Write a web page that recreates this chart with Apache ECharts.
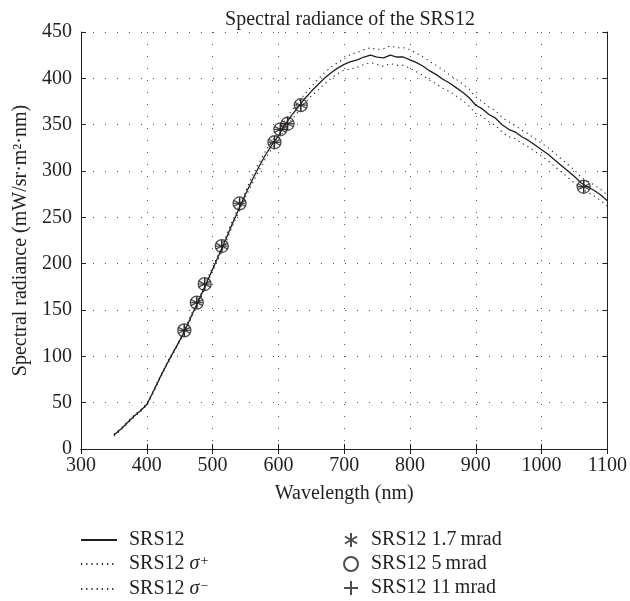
<!DOCTYPE html>
<html>
<head>
<meta charset="utf-8">
<script src="https://cdn.jsdelivr.net/npm/echarts@6/dist/echarts.min.js"></script>
<style>
  html, body { margin: 0; padding: 0; background: #fff; }
  #chart { width: 630px; height: 601px; }
</style>
</head>
<body>
<div id="chart"></div>
<script>
// wavelength grid (nm)
const wavelength = [350, 360, 370, 380, 390, 400, 410, 420, 430, 440, 450, 460, 470, 480, 490,
  500, 510, 520, 530, 540, 550, 560, 570, 580, 590, 600, 610, 620, 630, 640, 650, 660, 670, 680, 690,
  700, 710, 720, 730, 740, 750, 760, 770, 780, 790, 800, 810, 820, 830, 840, 850, 860, 870, 880, 890,
  900, 910, 920, 930, 940, 950, 960, 970, 980, 990, 1000, 1010, 1020, 1030, 1040, 1050, 1060, 1070,
  1080, 1090, 1100];

// SRS12 spectral radiance (mW/sr·m²·nm)
const srs12 = [15, 21, 28, 35, 41, 48, 62, 77, 91, 104, 117, 131, 147, 162, 178,
  194, 210, 226, 243, 259, 275, 290, 304, 317, 328, 338, 350, 360, 369, 378, 386, 393, 400, 406, 411,
  415, 418, 420, 423, 425, 423, 422, 425, 423, 423, 420, 417, 413, 408, 404, 399, 395, 390, 385, 379,
  371, 367, 361, 357, 350, 345, 342, 337, 333, 328, 323, 318, 312, 306, 300, 294, 287, 283,
  279, 274, 268];

const sigmaPlus = [16, 22, 29, 36, 42, 49, 63, 78, 92, 105, 118, 133, 149, 164, 180,
  196, 213, 229, 246, 262, 278, 294, 308, 321, 332, 342, 355, 365, 374, 383, 391, 399, 406, 412, 417,
  421, 426, 428, 431, 433, 431, 432, 435, 433, 433, 431, 427, 423, 418, 414, 409, 404, 399, 394, 388,
  380, 375, 369, 365, 358, 353, 349, 344, 340, 335, 330, 325, 319, 313, 307, 301, 293, 289,
  285, 280, 274];

const sigmaMinus = [14, 20, 27, 34, 40, 47, 61, 76, 90, 103, 116, 129, 145, 160, 176,
  192, 207, 223, 240, 256, 272, 286, 300, 313, 324, 334, 345, 355, 364, 373, 381, 387, 394, 400, 405,
  409, 410, 412, 415, 417, 415, 413, 416, 414, 414, 411, 407, 403, 398, 394, 389, 386, 381, 376, 370,
  362, 359, 353, 349, 342, 337, 335, 330, 326, 321, 316, 311, 305, 299, 293, 287, 281, 277,
  273, 268, 262];

// measured points (same points for 1.7, 5 and 11 mrad)
const markWavelength = [457, 476, 488, 514, 541, 594, 603, 614, 634, 1064];
const markRadiance = [128, 158, 178, 219, 265, 331, 345, 351, 371, 283];

const font = 'Liberation Serif';
const ink = '#231f20';

function pairs(xs, ys) {
  return xs.map((x, i) => [x, ys[i]]);
}

const chart = echarts.init(document.getElementById('chart'));

const markerStyle = { color: 'transparent', borderColor: ink, borderWidth: 1.3 };
const symAsterisk = 'path://M10,0L10,20M1.34,5L18.66,15M1.34,15L18.66,5';
const symPlus = 'path://M10,0L10,20M0,10L20,10';

const tickFmt = v => String(v);

chart.setOption({
  animation: false,
  title: {
    text: 'Spectral radiance of the SRS12',
    left: 345,
    textAlign: 'center',
    top: 5,
    textStyle: { fontFamily: font, fontSize: 20, fontWeight: 'normal', color: ink }
  },
  grid: { left: 81, right: 21, top: 32, bottom: 152 },
  xAxis: [
    {
      type: 'value', min: 300, max: 1100, interval: 100,
      name: 'Wavelength (nm)', nameLocation: 'middle', nameGap: 35,
      nameTextStyle: { fontFamily: font, fontSize: 20, color: ink },
      axisLine: { lineStyle: { color: ink, width: 1 } },
      axisTick: { inside: true, length: 5, lineStyle: { color: ink } },
      axisLabel: { fontFamily: font, fontSize: 20, color: ink, margin: 7, formatter: tickFmt },
      splitLine: { show: true, lineStyle: { color: '#555', width: 1, type: [1, 11] } }
    },
    {
      type: 'value', min: 300, max: 1100, interval: 100, position: 'top',
      axisLine: { lineStyle: { color: ink, width: 1 } },
      axisTick: { inside: true, length: 5, lineStyle: { color: ink } },
      axisLabel: { show: false },
      splitLine: { show: false }
    }
  ],
  yAxis: [
    {
      type: 'value', min: 0, max: 450, interval: 50,
      name: 'Spectral radiance (mW/sr·m²·nm)', nameLocation: 'middle', nameGap: 49,
      nameTextStyle: { fontFamily: font, fontSize: 20, color: ink },
      axisLine: { show: true, lineStyle: { color: ink, width: 1 } },
      axisTick: { show: true, inside: true, length: 5, lineStyle: { color: ink } },
      axisLabel: { fontFamily: font, fontSize: 20, color: ink, margin: 9, formatter: tickFmt },
      splitLine: { show: true, lineStyle: { color: '#555', width: 1, type: [1, 11] } }
    },
    {
      type: 'value', min: 0, max: 450, interval: 50, position: 'right',
      axisLine: { show: true, lineStyle: { color: ink, width: 1 } },
      axisTick: { show: true, inside: true, length: 5, lineStyle: { color: ink } },
      axisLabel: { show: false },
      splitLine: { show: false }
    }
  ],
  legend: [
    {
      orient: 'vertical', left: 80, top: 530, height: 120, padding: 0,
      itemWidth: 36, itemHeight: 14, itemGap: 4,
      itemStyle: { color: 'transparent', borderWidth: 0 },
      data: ['SRS12', 'SRS12 σ+', 'SRS12 σ−'],
      formatter: name => name.replace('σ+', '{i|σ}{s|+}').replace('σ−', '{i|σ}{s|−}'),
      textStyle: {
        fontFamily: font, fontSize: 20, lineHeight: 20, color: ink, padding: [0, 0, 0, 7],
        rich: {
          i: { fontFamily: font, fontSize: 20, lineHeight: 20, fontStyle: 'italic', color: ink },
          s: { fontFamily: font, fontSize: 14, lineHeight: 20, color: ink, verticalAlign: 'top', padding: [0, 0, 7, 1] }
        }
      }
    },
    {
      orient: 'vertical', left: 343, top: 530, height: 120, padding: 0,
      itemWidth: 14, itemHeight: 14, itemGap: 4,
      data: ['SRS12 1.7\u2009mrad', 'SRS12 5\u2009mrad', 'SRS12 11\u2009mrad'],
      textStyle: { fontFamily: font, fontSize: 20, lineHeight: 20, color: ink, padding: [0, 0, 0, 8] }
    }
  ],
  series: [
    {
      name: 'SRS12', type: 'line', data: pairs(wavelength, srs12),
      symbol: 'none', lineStyle: { color: ink, width: 1.3 }, itemStyle: { color: ink }, z: 3
    },
    {
      name: 'SRS12 σ+', type: 'line', data: pairs(wavelength, sigmaPlus),
      symbol: 'none', lineStyle: { color: ink, width: 1.1, type: [1.2, 4] }, itemStyle: { color: ink }
    },
    {
      name: 'SRS12 σ−', type: 'line', data: pairs(wavelength, sigmaMinus),
      symbol: 'none', lineStyle: { color: ink, width: 1.1, type: [1.2, 4] }, itemStyle: { color: ink }
    },
    {
      name: 'SRS12 1.7\u2009mrad', type: 'scatter', data: pairs(markWavelength, markRadiance),
      symbol: symAsterisk, symbolSize: 12, itemStyle: markerStyle, z: 4
    },
    {
      name: 'SRS12 5\u2009mrad', type: 'scatter', data: pairs(markWavelength, markRadiance),
      symbol: 'circle', symbolSize: 13, itemStyle: markerStyle, z: 4
    },
    {
      name: 'SRS12 11\u2009mrad', type: 'scatter', data: pairs(markWavelength, markRadiance),
      symbol: symPlus, symbolSize: 12, itemStyle: markerStyle, z: 4
    }
  ]
});
</script>
</body>
</html>
